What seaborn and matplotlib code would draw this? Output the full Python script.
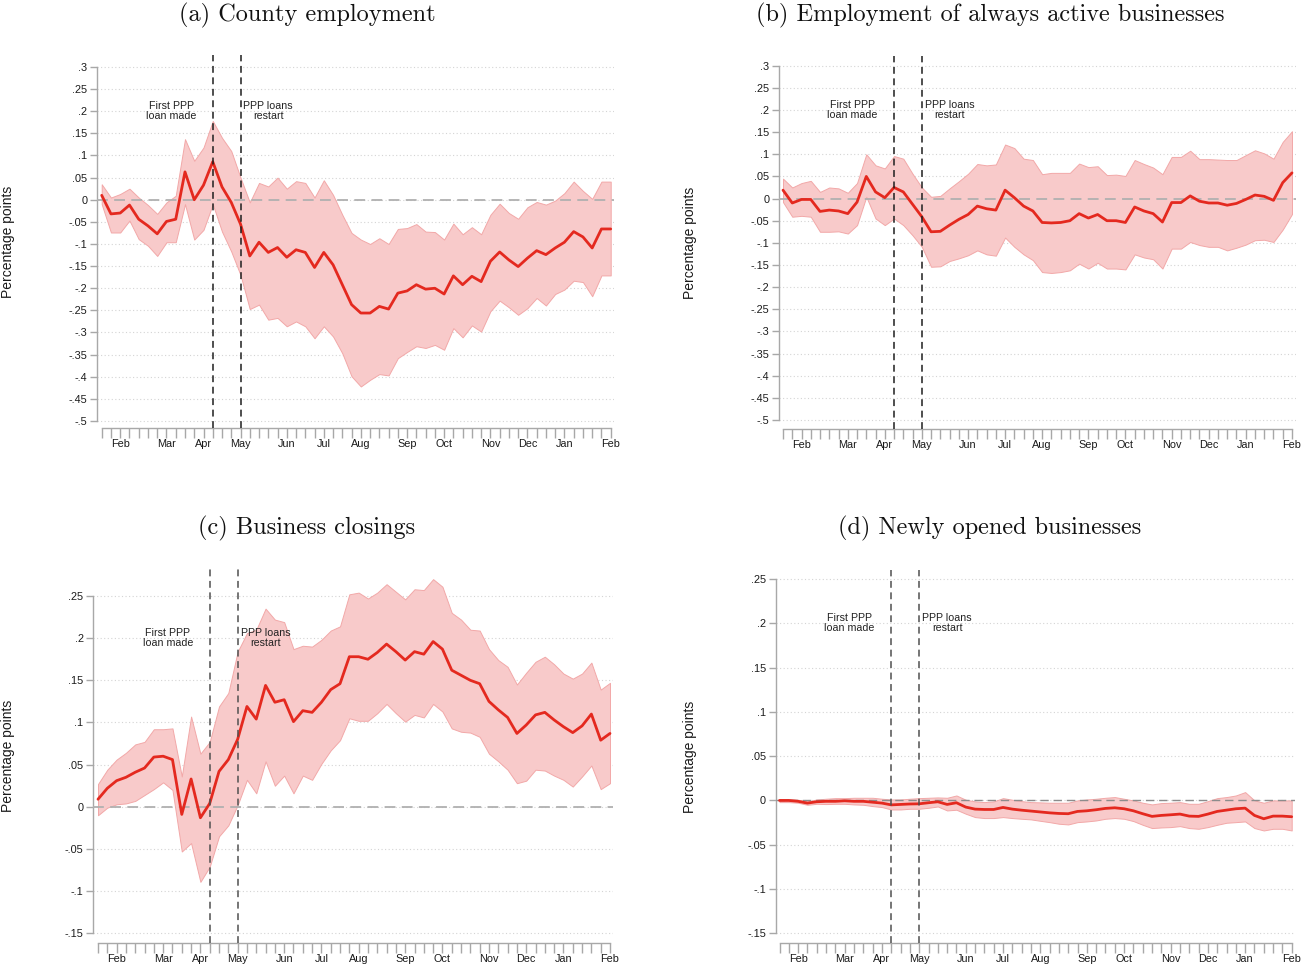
import numpy as np
import pandas as pd
import matplotlib
matplotlib.use("Agg")
import matplotlib.pyplot as plt
from matplotlib.ticker import FixedLocator, FuncFormatter
import seaborn as sns

# ---------------- data ----------------
weeks = list(range(56))
month_labels = ["Feb", "Mar", "Apr", "May", "Jun", "Jul", "Aug", "Sep", "Oct", "Nov", "Dec", "Jan", "Feb"]
month_pos = [2, 7, 11, 15, 20, 24, 28, 33, 37, 42, 46, 50, 55]
event_weeks = [12, 15]
event_labels = ["First PPP\nloan made", "PPP loans\nrestart"]
titles = ["(a) County employment", "(b) Employment of always active businesses",
          "(c) Business closings", "(d) Newly opened businesses"]

a_est = [0.010, -0.032, -0.030, -0.012, -0.044, -0.059, -0.077, -0.049, -0.044, 0.063,
         0.000, 0.033, 0.086, 0.029, -0.006, -0.055, -0.127, -0.096, -0.119, -0.108,
         -0.130, -0.113, -0.119, -0.153, -0.119, -0.147, -0.192, -0.237, -0.256, -0.256,
         -0.241, -0.247, -0.211, -0.206, -0.192, -0.202, -0.200, -0.213, -0.172, -0.192,
         -0.173, -0.185, -0.139, -0.118, -0.136, -0.151, -0.132, -0.115, -0.124, -0.109,
         -0.096, -0.072, -0.084, -0.109, -0.066, -0.066]
a_hi = [0.035, 0.005, 0.013, 0.025, 0.005, -0.012, -0.032, -0.006, 0.009, 0.137,
        0.088, 0.118, 0.178, 0.140, 0.110, 0.050, -0.006, 0.038, 0.030, 0.050,
        0.025, 0.042, 0.038, 0.005, 0.044, 0.011, -0.034, -0.075, -0.090, -0.100,
        -0.087, -0.100, -0.066, -0.064, -0.055, -0.072, -0.073, -0.090, -0.054, -0.078,
        -0.062, -0.078, -0.034, -0.009, -0.030, -0.043, -0.017, -0.005, -0.011, -0.002,
        0.015, 0.041, 0.020, 0.002, 0.041, 0.041]
a_lo = [-0.010, -0.074, -0.074, -0.047, -0.089, -0.104, -0.127, -0.096, -0.096, -0.010,
        -0.090, -0.068, -0.010, -0.072, -0.117, -0.170, -0.247, -0.237, -0.271, -0.267,
        -0.286, -0.275, -0.286, -0.313, -0.286, -0.309, -0.347, -0.399, -0.422, -0.407,
        -0.394, -0.397, -0.358, -0.344, -0.331, -0.335, -0.328, -0.339, -0.290, -0.311,
        -0.284, -0.298, -0.252, -0.228, -0.243, -0.260, -0.245, -0.222, -0.239, -0.213,
        -0.203, -0.183, -0.186, -0.218, -0.171, -0.171]

b_est = [0.019, -0.010, -0.002, -0.002, -0.029, -0.026, -0.028, -0.034, -0.008, 0.050,
         0.015, 0.002, 0.025, 0.015, -0.013, -0.041, -0.075, -0.074, -0.060, -0.047,
         -0.036, -0.017, -0.023, -0.026, 0.019, 0.002, -0.017, -0.028, -0.054, -0.055,
         -0.054, -0.050, -0.034, -0.044, -0.036, -0.050, -0.050, -0.054, -0.019, -0.028,
         -0.034, -0.053, -0.009, -0.009, 0.006, -0.006, -0.010, -0.010, -0.015, -0.011,
         -0.002, 0.008, 0.005, -0.004, 0.036, 0.058]
b_hi = [0.045, 0.025, 0.035, 0.040, 0.015, 0.025, 0.023, 0.013, 0.035, 0.100,
        0.075, 0.068, 0.096, 0.090, 0.056, 0.025, 0.004, 0.006, 0.023, 0.039,
        0.056, 0.078, 0.075, 0.077, 0.122, 0.114, 0.090, 0.087, 0.055, 0.058,
        0.058, 0.058, 0.079, 0.071, 0.073, 0.053, 0.054, 0.051, 0.087, 0.078,
        0.070, 0.055, 0.094, 0.094, 0.108, 0.089, 0.089, 0.088, 0.087, 0.087,
        0.098, 0.109, 0.102, 0.090, 0.128, 0.152]
b_lo = [-0.008, -0.041, -0.039, -0.041, -0.075, -0.075, -0.074, -0.079, -0.060, 0.004,
        -0.045, -0.060, -0.045, -0.060, -0.083, -0.109, -0.154, -0.153, -0.141, -0.135,
        -0.128, -0.117, -0.126, -0.129, -0.088, -0.109, -0.126, -0.139, -0.166, -0.168,
        -0.166, -0.162, -0.147, -0.158, -0.145, -0.158, -0.158, -0.160, -0.126, -0.133,
        -0.137, -0.158, -0.113, -0.113, -0.098, -0.105, -0.109, -0.109, -0.117, -0.111,
        -0.104, -0.094, -0.093, -0.098, -0.070, -0.035]

c_est = [0.009, 0.022, 0.031, 0.035, 0.041, 0.046, 0.059, 0.060, 0.056, -0.009,
         0.033, -0.013, 0.004, 0.042, 0.056, 0.080, 0.119, 0.104, 0.144, 0.124,
         0.127, 0.101, 0.114, 0.112, 0.124, 0.139, 0.146, 0.178, 0.178, 0.175,
         0.183, 0.193, 0.184, 0.174, 0.184, 0.181, 0.196, 0.187, 0.162, 0.156,
         0.150, 0.146, 0.125, 0.115, 0.106, 0.087, 0.097, 0.109, 0.112, 0.103,
         0.095, 0.088, 0.096, 0.110, 0.079, 0.087]
c_hi = [0.027, 0.044, 0.056, 0.064, 0.074, 0.077, 0.092, 0.092, 0.093, 0.036,
        0.107, 0.063, 0.077, 0.119, 0.135, 0.184, 0.206, 0.210, 0.235, 0.222,
        0.219, 0.187, 0.191, 0.190, 0.198, 0.209, 0.214, 0.252, 0.254, 0.247,
        0.254, 0.264, 0.255, 0.246, 0.258, 0.257, 0.270, 0.261, 0.230, 0.222,
        0.210, 0.209, 0.187, 0.174, 0.166, 0.145, 0.159, 0.172, 0.178, 0.169,
        0.158, 0.152, 0.158, 0.171, 0.139, 0.147]
c_lo = [-0.010, -0.001, 0.003, 0.004, 0.007, 0.014, 0.021, 0.029, 0.020, -0.053,
        -0.043, -0.089, -0.071, -0.035, -0.022, 0.002, 0.032, 0.016, 0.054, 0.025,
        0.037, 0.016, 0.037, 0.032, 0.051, 0.067, 0.079, 0.105, 0.102, 0.102,
        0.111, 0.122, 0.111, 0.101, 0.109, 0.106, 0.122, 0.113, 0.093, 0.089,
        0.088, 0.083, 0.063, 0.054, 0.044, 0.028, 0.031, 0.044, 0.043, 0.037,
        0.032, 0.024, 0.036, 0.049, 0.021, 0.028]

d_est = [0.000, 0.000, -0.001, -0.003, -0.0015, -0.001, -0.001, -0.0004, -0.001, -0.001,
         -0.002, -0.003, -0.005, -0.0045, -0.004, -0.0038, -0.0026, -0.0015, -0.0045, -0.0026,
         -0.0075, -0.0098, -0.0102, -0.0102, -0.0079, -0.0098, -0.011, -0.012, -0.013, -0.014,
         -0.0147, -0.015, -0.0124, -0.0117, -0.0105, -0.009, -0.0083, -0.0094, -0.0117, -0.015,
         -0.018, -0.0169, -0.0162, -0.0154, -0.0177, -0.018, -0.0154, -0.0124, -0.0109, -0.0094,
         -0.0087, -0.0169, -0.0207, -0.0177, -0.0177, -0.0184]
d_hi = [0.0008, 0.0011, 0.0008, -0.0011, 0.0011, 0.0019, 0.0026, 0.0026, 0.003, 0.003,
        0.003, 0.0019, 0.0011, 0.0011, 0.0019, 0.0026, 0.003, 0.0034, 0.003, 0.0056,
        0.0008, -0.0011, -0.0019, -0.0011, 0.0026, 0.0008, -0.0008, -0.0019, -0.0022, -0.0026,
        -0.0026, -0.0026, 0.0, 0.0011, 0.0019, 0.003, 0.0038, 0.0019, 0.0, -0.0026,
        -0.0045, -0.003, -0.0026, -0.0019, -0.0038, -0.0038, -0.0008, 0.0026, 0.0038, 0.0056,
        0.0094, 0.0, -0.0026, 0.0, 0.0, 0.0]
d_lo = [-0.0019, -0.0019, -0.0026, -0.0049, -0.0038, -0.0041, -0.0038, -0.0038, -0.0045, -0.0049,
        -0.0064, -0.0075, -0.0102, -0.0102, -0.0094, -0.0094, -0.0083, -0.0068, -0.0113, -0.0105,
        -0.015, -0.0188, -0.0199, -0.0199, -0.0188, -0.0199, -0.0207, -0.0214, -0.0230, -0.0245,
        -0.0263, -0.0271, -0.0245, -0.0237, -0.0226, -0.0207, -0.0199, -0.0207, -0.0233, -0.0275,
        -0.0312, -0.0305, -0.0301, -0.029, -0.0312, -0.032, -0.0301, -0.0275, -0.0252, -0.0245,
        -0.0237, -0.0312, -0.0339, -0.032, -0.032, -0.0339]

yticks_ab = [0.3, 0.25, 0.2, 0.15, 0.1, 0.05, 0.0, -0.05, -0.1, -0.15, -0.2, -0.25,
             -0.3, -0.35, -0.4, -0.45, -0.5]
yticks_cd = [0.25, 0.2, 0.15, 0.1, 0.05, 0.0, -0.05, -0.1, -0.15]

# ---------------- style ----------------
sns.set_theme(style="white")
plt.rcParams["font.family"] = ["Liberation Sans", "DejaVu Sans"]

W, H = 1313, 967
fig = plt.figure(figsize=(W / 100, H / 100), dpi=100)

LINE_C = "#e4291f"
BAND_C = "#f8caca"
BAND_E = "#f2a8a8"
AXIS_C = "#a8a8a8"


def fmt(v, pos=None):
    if abs(v) < 1e-9:
        return "0"
    s = f"{v:.2f}".rstrip("0")
    s = s.replace("0.", ".")
    return s


# geometry per panel in pixels: left, right, top, bottom, x0px, x55px, (yv1, ypx1), (yv2, ypx2)
geoms = [
    (97, 614, 55, 428, 101.7, 610.7, (0.3, 67), (-0.5, 421)),
    (779, 1296, 56, 429, 783.0, 1292.0, (0.3, 65.7), (-0.5, 420)),
    (93.3, 613, 568, 943, 98.0, 610.0, (0.25, 596), (-0.15, 933.3)),
    (775.7, 1295, 570, 943, 779.5, 1291.7, (0.25, 579), (-0.15, 933.3)),
]
series = [(a_est, a_lo, a_hi), (b_est, b_lo, b_hi), (c_est, c_lo, c_hi), (d_est, d_lo, d_hi)]
tick_sets = [yticks_ab, yticks_ab, yticks_cd, yticks_cd]
vcolors = ["#1e1e1e", "#1e1e1e", "#505050", "#505050"]
zcolors = ["#b0b0b0", "#b0b0b0", "#b0b0b0", "#8c8c8c"]
title_pos = [(307, 15), (990, 15), (307, 528), (990, 528)]
ylab_x = [15, 697, 15, 697]

for k in range(4):
    left, right, top, bottom, x0, x55, (yv1, yp1), (yv2, yp2) = geoms[k]
    ax = fig.add_axes([left / W, 1 - bottom / H, (right - left) / W, (bottom - top) / H])
    per_x = (x55 - x0) / 55.0
    ax.set_xlim((left - x0) / per_x, 55 + (right - x55) / per_x)
    per_y = (yp2 - yp1) / (yv1 - yv2)
    ax.set_ylim(yv2 - (bottom - yp2) / per_y, yv1 + (yp1 - top) / per_y)

    est, lo, hi = series[k]
    df = pd.DataFrame({"week": weeks, "est": est, "lo": lo, "hi": hi})

    ax.yaxis.grid(True, linestyle=(0, (1, 2.2)), color="#d4d4d4", linewidth=0.8)
    ax.xaxis.grid(False)
    ax.set_axisbelow(True)

    ax.fill_between(df["week"], df["lo"], df["hi"], facecolor=BAND_C, edgecolor=BAND_E,
                    linewidth=0.7, zorder=2)
    ax.axhline(0, color=zcolors[k], linestyle=(0, (6, 3.5)), linewidth=1.3 if k < 3 else 1.0,
               zorder=3)
    sns.lineplot(data=df, x="week", y="est", ax=ax, color=LINE_C, linewidth=2.0, zorder=5)
    for ev in event_weeks:
        ax.axvline(ev, color=vcolors[k], linestyle=(0, (4.5, 3)), linewidth=1.1, zorder=6)

    ax.text(7.5, 0.2, event_labels[0], ha="center", va="center", fontsize=7.7,
            color="#222222", linespacing=1.0, zorder=7)
    ax.text(18.0, 0.2, event_labels[1], ha="center", va="center", fontsize=7.7,
            color="#222222", linespacing=1.0, zorder=7)

    # axes styling (Stata-like)
    for s in ["top", "right"]:
        ax.spines[s].set_visible(False)
    for s in ["left", "bottom"]:
        ax.spines[s].set_color(AXIS_C)
        ax.spines[s].set_linewidth(1.0)
    ax.spines["left"].set_bounds(min(tick_sets[k]), max(tick_sets[k]))
    ax.spines["bottom"].set_bounds(0, 55)

    ax.yaxis.set_major_locator(FixedLocator(tick_sets[k]))
    ax.yaxis.set_major_formatter(FuncFormatter(fmt))
    ax.tick_params(axis="y", length=5, width=1.0, color=AXIS_C, pad=2,
                   labelsize=7.8, labelcolor="#1a1a1a", left=True)
    ax.set_xticks(weeks)
    xl = [""] * 56
    for p, lab in zip(month_pos, month_labels):
        xl[p] = lab
    ax.set_xticklabels(xl)
    ax.tick_params(axis="x", length=7, width=1.0, color=AXIS_C, pad=1,
                   labelsize=7.8, labelcolor="#1a1a1a", bottom=True)

    ax.set_xlabel("")
    ax.set_ylabel("Percentage points", fontsize=10, color="#1a1a1a")
    ax.yaxis.set_label_coords((ylab_x[k] - left) / (right - left), 0.5)

    tx, ty = title_pos[k]
    fig.text(tx / W, 1 - ty / H, titles[k], ha="center", va="center",
             fontsize=17.5, family="cmr10", color="#111111")

fig.savefig("out.png", dpi=100)
